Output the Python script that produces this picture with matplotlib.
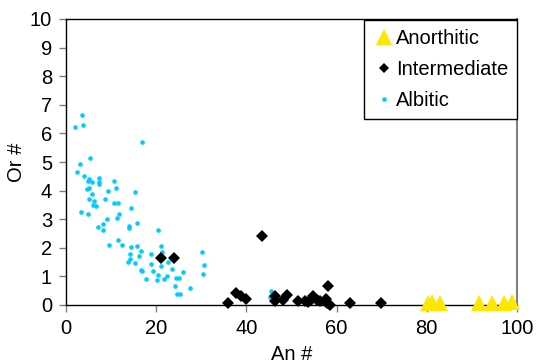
import matplotlib
matplotlib.use("Agg")
import matplotlib.pyplot as plt

plt.rcParams['font.family'] = ['Liberation Sans', 'DejaVu Sans']

# Albitic (An #, Or #)
alb_an = [3.6, 2.1, 3.8, 16.9, 5.3, 3.0, 2.4, 4.1, 5.0, 7.4, 5.8, 4.8, 7.4, 7.4,
          10.6, 4.6, 5.2, 11.1, 9.4, 5.8, 5.0, 6.1, 8.7, 15.2, 5.9, 6.7, 10.6, 11.6,
          3.4, 4.9, 14.4, 11.8, 9.2, 11.3, 8.2, 7.1, 8.3, 13.9, 14.0, 15.8, 20.4,
          9.5, 11.5, 12.4, 14.4, 15.8, 16.6, 14.2, 16.1, 14.1, 13.7, 15.2, 16.6,
          16.9, 17.8, 18.9, 21.0, 21.2, 18.9, 21.1, 19.2, 22.7, 23.6, 20.5, 20.1,
          21.7, 22.4, 24.4, 25.0, 26.0, 24.1, 24.6, 25.3, 27.5, 30.1, 30.7, 30.3,
          45.4, 45.2, 46.4]
alb_or = [6.65, 6.22, 6.28, 5.71, 5.14, 4.94, 4.66, 4.52, 4.41, 4.45, 4.29, 4.32, 4.29, 4.23,
          4.35, 4.06, 4.09, 4.08, 3.97, 3.88, 3.71, 3.62, 3.71, 3.95, 3.50, 3.45, 3.55, 3.55,
          3.26, 3.18, 3.38, 3.19, 3.01, 3.03, 2.84, 2.73, 2.63, 2.77, 2.68, 2.87, 2.61,
          2.10, 2.29, 2.10, 2.04, 2.06, 1.90, 1.79, 1.71, 1.61, 1.52, 1.47, 1.24,
          1.20, 0.91, 1.78, 2.05, 1.87, 1.42, 1.37, 1.20, 1.50, 1.27, 1.05, 0.88,
          0.91, 1.02, 0.93, 0.94, 1.15, 0.65, 0.40, 0.37, 0.60, 1.85, 1.40, 1.08,
          0.48, 0.28, 0.21]

# Intermediate
int_an = [21.0, 23.9, 43.5, 35.9, 37.6, 38.9, 40.0, 46.4, 46.3, 48.9, 48.1, 51.5,
          53.0, 54.8, 54.4, 55.6, 56.3, 57.6, 58.1, 58.5, 57.8, 53.7, 63.0, 69.8]
int_or = [1.64, 1.64, 2.43, 0.07, 0.42, 0.33, 0.22, 0.30, 0.13, 0.36, 0.19, 0.13,
          0.13, 0.30, 0.16, 0.19, 0.13, 0.21, 0.65, 0.01, 0.07, 0.09, 0.07, 0.07]

# Anorthitic
ano_an = [80.3, 81.2, 82.9, 91.5, 94.4, 97.2, 98.9]
ano_or = [0.07, 0.09, 0.07, 0.07, 0.07, 0.08, 0.1]

FS = 14.5

fig = plt.figure(figsize=(5.37, 3.64), dpi=100)
ax = fig.add_axes([66/537, 1-305/364, (517-66)/537, (305-19)/364])

ax.plot(alb_an, alb_or, 'o', color='#00CCFF', ms=3.3, mew=0, label='Albitic', zorder=3, clip_on=False)
ax.plot(int_an, int_or, 'D', color='black', ms=6.2, mew=0, label='Intermediate', zorder=4, clip_on=False)
ax.plot(ano_an, ano_or, '^', color='#FFE600', ms=11, mew=0, label='Anorthitic', zorder=5, clip_on=False)

ax.set_xlim(0, 100)
ax.set_ylim(0, 10)
ax.set_xticks(range(0, 101, 20))
ax.set_yticks(range(0, 11, 1))
ax.tick_params(direction='out', length=5, width=1, color='#808080', labelsize=FS)
ax.tick_params(axis='x', pad=5)
ax.tick_params(axis='y', pad=5)

for s in ['left', 'bottom', 'top']:
    ax.spines[s].set_color('black')
    ax.spines[s].set_linewidth(1)
ax.spines['right'].set_color('#808080')
ax.spines['right'].set_linewidth(1.5)

ax.set_xlabel('An #', fontsize=FS, labelpad=5)
ax.set_ylabel('Or #', fontsize=FS, labelpad=3)

handles, labels = ax.get_legend_handles_labels()
order = [2, 1, 0]
leg = ax.legend([handles[i] for i in order], [labels[i] for i in order],
                loc='upper right', bbox_to_anchor=(1.0, 1.0 - 1/286), fontsize=FS,
                frameon=True, fancybox=False, framealpha=1, edgecolor='black',
                borderpad=0.45, labelspacing=0.6, handlelength=1.0, handletextpad=0.1,
                borderaxespad=0.0, markerscale=1.0)
leg.get_frame().set_linewidth(1)
leg.legend_handles[0].set_markersize(12)
leg.legend_handles[1].set_markersize(5.5)

fig.savefig('out.png', dpi=100)
